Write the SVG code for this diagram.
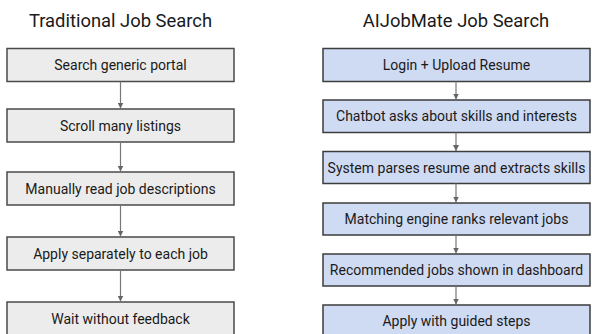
<svg xmlns="http://www.w3.org/2000/svg" width="592" height="334" viewBox="0 0 592 334">
<defs>
<style>
.title{font-family:Roboto,"Liberation Sans",sans-serif;font-size:18.4px;fill:#1a1a1a;text-anchor:middle}
.lbl{font-family:Roboto,"Liberation Sans",sans-serif;font-size:14px;fill:#1a1a1a;text-anchor:middle}
.trad{fill:#ececec;stroke:#4a4a4a;stroke-width:1.5}
.ai{fill:#cfdaf3;stroke:#3d3d3d;stroke-width:1.5}
.conn{stroke:#777;stroke-width:1.2;fill:none;marker-end:url(#ah)}
</style>
<marker id="ah" viewBox="0 0 8 8" refX="8" refY="4" markerWidth="6" markerHeight="6" markerUnits="userSpaceOnUse" orient="auto">
<path d="M0,0 L8,4 L0,8 z" fill="#666"/>
</marker>
</defs>
<rect width="592" height="334" fill="#fff"/>
<text class="title" x="120.5" y="27">Traditional Job Search</text>
<text class="title" x="456" y="27">AIJobMate Job Search</text>

<g id="t1"><rect class="trad" x="7" y="48.5" width="227" height="33"/><text class="lbl" x="120.5" y="70">Search generic portal</text></g>
<g id="t2"><rect class="trad" x="7" y="109" width="227" height="33"/><text class="lbl" x="120.5" y="130.5">Scroll many listings</text></g>
<g id="t3"><rect class="trad" x="7" y="172" width="227" height="33"/><text class="lbl" x="120.5" y="193.5">Manually read job descriptions</text></g>
<g id="t4"><rect class="trad" x="7" y="237" width="227" height="33"/><text class="lbl" x="120.5" y="258.5">Apply separately to each job</text></g>
<g id="t5"><rect class="trad" x="7" y="302" width="227" height="33"/><text class="lbl" x="120.5" y="323.5">Wait without feedback</text></g>

<g id="a1"><rect class="ai" x="323" y="48.5" width="267" height="33"/><text class="lbl" x="456.5" y="70">Login + Upload Resume</text></g>
<g id="a2"><rect class="ai" x="323" y="100" width="267" height="32.5"/><text class="lbl" x="456.5" y="121">Chatbot asks about skills and interests</text></g>
<g id="a3"><rect class="ai" x="323" y="151.5" width="267" height="32"/><text class="lbl" x="456.5" y="172.5">System parses resume and extracts skills</text></g>
<g id="a4"><rect class="ai" x="323" y="203" width="267" height="32"/><text class="lbl" x="456.5" y="224">Matching engine ranks relevant jobs</text></g>
<g id="a5"><rect class="ai" x="323" y="254" width="267" height="32"/><text class="lbl" x="456.5" y="275">Recommended jobs shown in dashboard</text></g>
<g id="a6"><rect class="ai" x="323" y="305" width="267" height="33"/><text class="lbl" x="456.5" y="326">Apply with guided steps</text></g>

<g id="connectors">
<line class="conn" x1="120.5" y1="81.5" x2="120.5" y2="108.5"/>
<line class="conn" x1="120.5" y1="142" x2="120.5" y2="171.5"/>
<line class="conn" x1="120.5" y1="205" x2="120.5" y2="236.5"/>
<line class="conn" x1="120.5" y1="270" x2="120.5" y2="301.5"/>
<line class="conn" x1="456" y1="81.5" x2="456" y2="99.5"/>
<line class="conn" x1="456" y1="132.5" x2="456" y2="151"/>
<line class="conn" x1="456" y1="183.5" x2="456" y2="202.5"/>
<line class="conn" x1="456" y1="235" x2="456" y2="253.5"/>
<line class="conn" x1="456" y1="286" x2="456" y2="304.5"/>
</g>
</svg>
